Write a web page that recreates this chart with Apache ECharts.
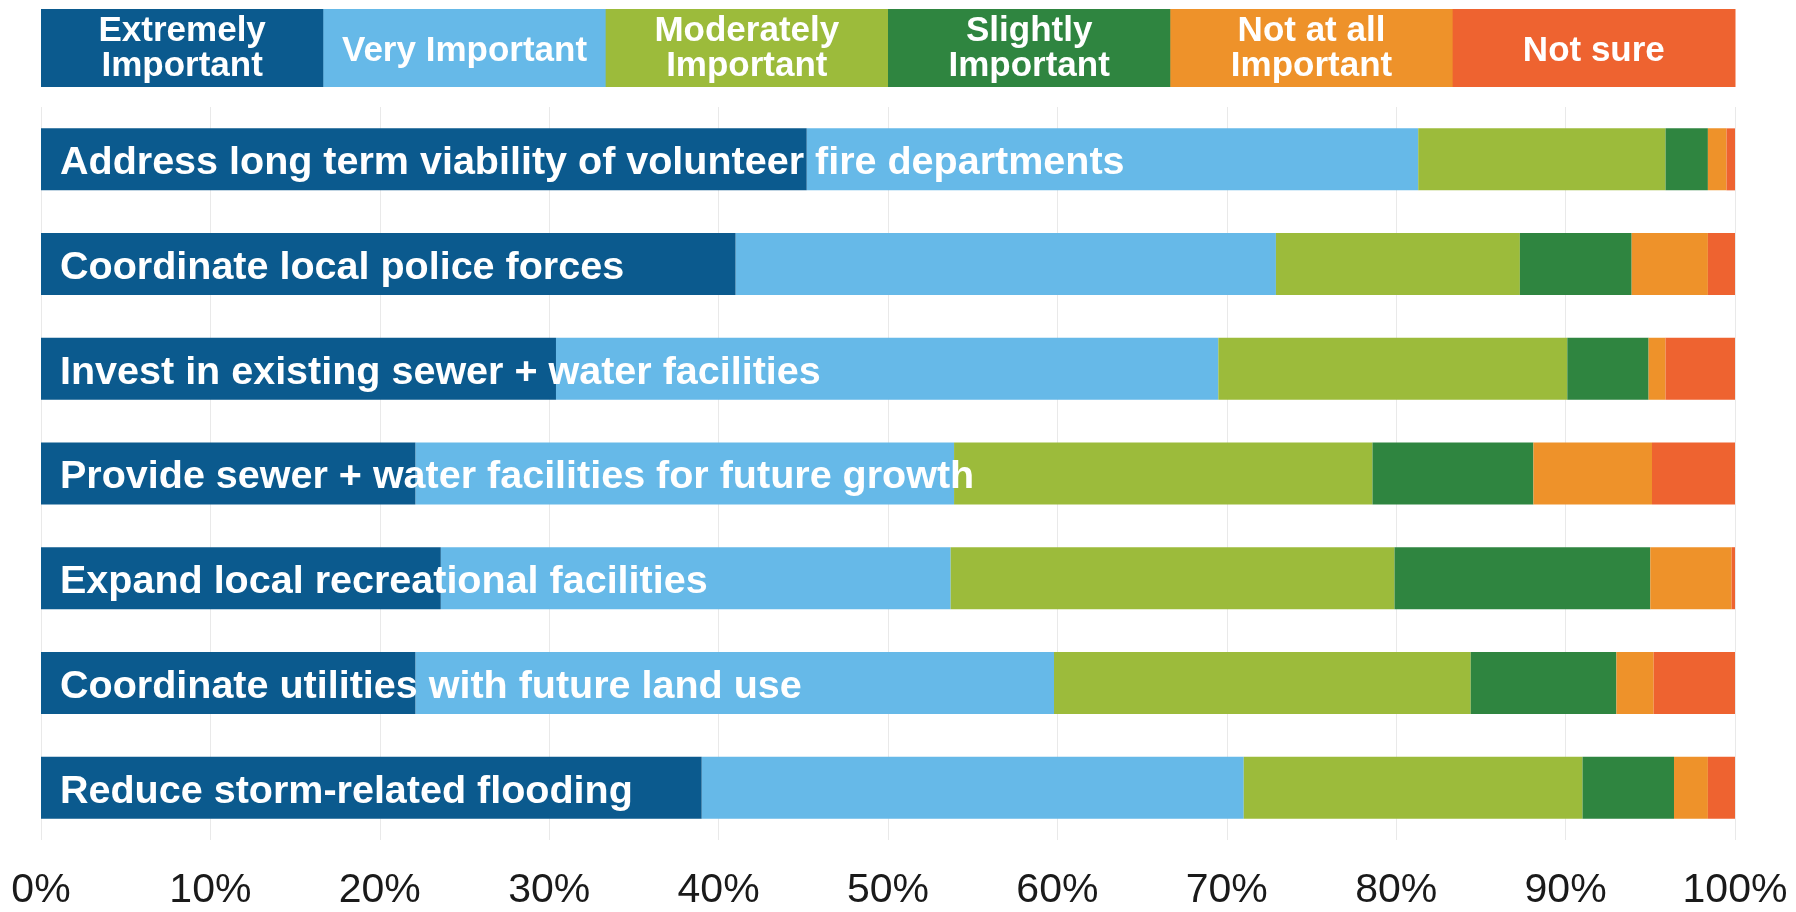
<!DOCTYPE html>
<html>
<head>
<meta charset="utf-8">
<script src="https://cdn.jsdelivr.net/npm/echarts@6/dist/echarts.min.js"></script>
<style>
html,body{margin:0;padding:0;background:#fff;}
#chart{width:1796px;height:912px;}
</style>
</head>
<body>
<div id="chart"></div>
<script>
const categories = [
  'Address long term viability of volunteer fire departments',
  'Coordinate local police forces',
  'Invest in existing sewer + water facilities',
  'Provide sewer + water facilities for future growth',
  'Expand local recreational facilities',
  'Coordinate utilities with future land use',
  'Reduce storm-related flooding'
];
const seriesNames = ['Extremely Important','Very Important','Moderately Important','Slightly Important','Not at all Important','Not sure'];
const legendLabels = ['Extremely\nImportant','Very Important','Moderately\nImportant','Slightly\nImportant','Not at all\nImportant','Not sure'];
const extremelyImportant = [45.2, 41.0, 30.4, 22.1, 23.6, 22.1, 39.0];
const veryImportant      = [36.1, 31.9, 39.1, 31.8, 30.1, 37.7, 32.0];
const moderatelyImportant= [14.6, 14.4, 20.6, 24.7, 26.2, 24.6, 20.0];
const slightlyImportant  = [2.5, 6.6, 4.8, 9.5, 15.1, 8.6, 5.4];
const notAtAllImportant  = [1.1, 4.5, 1.0, 7.0, 4.8, 2.2, 2.0];
const notSure            = [0.5, 1.6, 4.1, 4.9, 0.2, 4.8, 1.6];
const xTicks = [0,10,20,30,40,50,60,70,80,90,100];

const seriesData = [extremelyImportant, veryImportant, moderatelyImportant, slightlyImportant, notAtAllImportant, notSure];
const colors = ['#0b5a8e','#66b9e8','#9cbb3b','#2f8540','#ee922a','#ee6330'];
const FONT = '"Liberation Sans", Arial, Helvetica, sans-serif';

const chart = echarts.init(document.getElementById('chart'), null, {renderer:'canvas'});

const series = seriesNames.map((name, i) => {
  const s = {
    name: name,
    type: 'bar',
    stack: 'total',
    barWidth: 62,
    data: seriesData[i],
    itemStyle: { color: colors[i] },
    emphasis: { disabled: true },
    z: i === 0 ? 10 : 2
  };
  if (i === 0) {
    s.label = {
      show: true,
      position: 'insideLeft',
      distance: 19,
      offset: [0, 4],
      color: '#ffffff',
      fontFamily: FONT,
      fontWeight: 'bold',
      fontSize: 39.5,
      formatter: p => categories[p.dataIndex]
    };
  }
  return s;
});

chart.setOption({
  animation: false,
  backgroundColor: '#ffffff',
  grid: { left: 41, right: 61, top: 107, bottom: 72, containLabel: false },
  xAxis: {
    type: 'value',
    min: 0, max: 100, interval: 10,
    axisLine: { show: false },
    axisTick: { show: false },
    splitLine: { show: true, lineStyle: { color: '#e9e9e9', width: 1 } },
    axisLabel: {
      margin: 30,
      color: '#1a1a1a',
      fontFamily: FONT,
      fontSize: 41,
      formatter: v => xTicks.indexOf(v) >= 0 ? v + '%' : ''
    }
  },
  yAxis: {
    type: 'category',
    inverse: true,
    data: categories,
    axisLine: { show: false },
    axisTick: { show: false },
    axisLabel: { show: false },
    splitLine: { show: false }
  },
  series: series
});

// Legend band across the top, aligned to the value axis
const x0 = chart.convertToPixel({xAxisIndex: 0}, 0);
const x1 = chart.convertToPixel({xAxisIndex: 0}, 100);
const segW = (x1 - x0) / seriesNames.length;
const legTop = 9, legH = 78;
const graphics = [];
seriesNames.forEach((n, i) => {
  graphics.push({
    type: 'rect',
    shape: { x: x0 + i * segW, y: legTop, width: segW + 0.5, height: legH },
    style: { fill: colors[i] },
    silent: true
  });
  const twoLine = legendLabels[i].indexOf('\n') >= 0;
  graphics.push({
    type: 'text',
    x: x0 + (i + 0.5) * segW,
    y: legTop + legH / 2 + (twoLine ? 1 : 3),
    style: {
      text: legendLabels[i],
      fill: '#ffffff',
      fontFamily: FONT,
      fontWeight: 'bold',
      fontSize: 35,
      lineHeight: 35,
      align: 'center',
      verticalAlign: 'middle'
    },
    silent: true,
    z: 100
  });
});
chart.setOption({ graphic: graphics });
</script>
</body>
</html>
